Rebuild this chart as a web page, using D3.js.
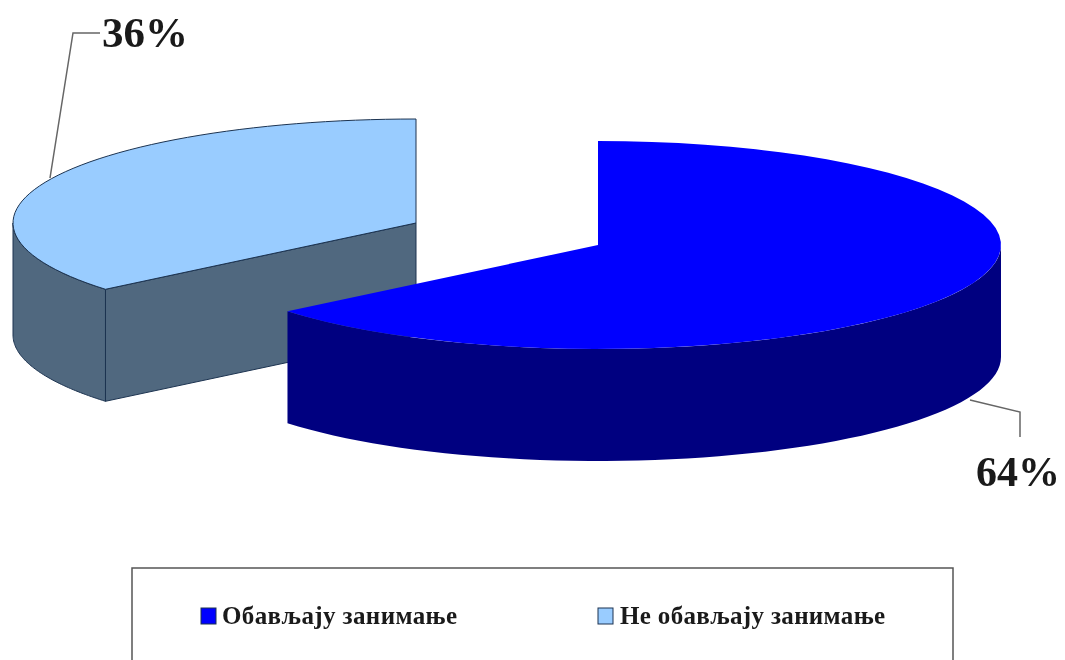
<!DOCTYPE html>
<html>
<head>
<meta charset="utf-8">
<script src="https://cdn.jsdelivr.net/npm/d3@7"></script>
<style>
html, body { margin: 0; padding: 0; background: #fff; overflow: hidden; }
svg { display: block; filter: blur(0.7px); }
text { font-family: "Liberation Serif", serif; font-weight: bold; fill: #1a1a1a; }
</style>
</head>
<body>
<svg id="chart" width="1065" height="660"></svg>
<script>
// data
var categories = ["Обављају занимање", "Не обављају занимање"];
var values = [64, 36];
var labels = ["64%", "36%"];
var topColors = ["#0000ff", "#99ccff"];
var sideColors = ["#000080", "#50687f"];

var width = 1065, height = 660;
var rx = 403, ry = 104, depth = 112;
var centers = [[598, 245], [416, 223]];   // second slice is pulled out to the left

var svg = d3.select("#chart");

// sort(null) so the slices stay in order, starting at 12 o'clock
var slices = d3.pie().sort(null).value(function (d) { return d; })(values);

// tilted pie: angle -> point on the flattened ellipse
function px(i, a) { return centers[i][0] + rx * Math.sin(a); }
function py(i, a) { return centers[i][1] - ry * Math.cos(a); }

var curve = d3.line().x(function (d) { return d[0]; }).y(function (d) { return d[1]; });

function rim(i, a0, a1, dy) {
  return d3.range(0, 61).map(function (k) {
    var a = a0 + (a1 - a0) * k / 60;
    return [px(i, a), py(i, a) + dy];
  });
}

function drawSlice(i) {
  var s = slices[i];
  var g = svg.append("g").attr("class", "slice");
  var stroke = i === 0 ? "none" : "#1c3350";

  // radial cut facing the viewer (only the pulled out slice shows it)
  if (i === 1) {
    var c = centers[i];
    var p = [px(i, s.startAngle), py(i, s.startAngle)];
    g.append("path")
      .attr("d", curve([c, p, [p[0], p[1] + depth], [c[0], c[1] + depth]]) + "Z")
      .attr("fill", sideColors[i]).attr("stroke", stroke);
  }

  // outer wall, lower half of the ellipse only
  var a0, a1;
  if (i === 0) { a0 = Math.PI / 2; a1 = s.endAngle; }
  else { a0 = s.startAngle; a1 = Math.PI * 1.5; }
  g.append("path")
    .attr("d", curve(rim(i, a0, a1, 0).concat(rim(i, a1, a0, depth))) + "Z")
    .attr("fill", sideColors[i]).attr("stroke", stroke);

  // top face
  g.append("path")
    .attr("d", curve([centers[i]].concat(rim(i, s.startAngle, s.endAngle, 0))) + "Z")
    .attr("fill", topColors[i]).attr("stroke", stroke);
}

drawSlice(1);
drawSlice(0);

// leader lines
function leader(pts) {
  svg.append("path").attr("d", curve(pts))
    .attr("fill", "none").attr("stroke", "#666").attr("stroke-width", 1.5);
}
leader([[50, 178], [73, 33], [100, 33]]);
leader([[970, 400], [1020, 412], [1020, 437]]);

svg.append("text").attr("x", 102).attr("y", 47).attr("font-size", 43).text(labels[1]);
svg.append("text").attr("x", 976).attr("y", 486).attr("font-size", 42).text(labels[0]);

// legend, runs off the bottom of the picture
svg.append("rect").attr("x", 132).attr("y", 568).attr("width", 821).attr("height", 120)
  .attr("fill", "#fff").attr("stroke", "#555").attr("stroke-width", 1.5);

var swatchX = [201, 598];
var textX = [222, 620];
var textW = [235, 265];
categories.forEach(function (name, i) {
  svg.append("rect").attr("x", swatchX[i]).attr("y", 608).attr("width", 15).attr("height", 16)
    .attr("fill", topColors[i]).attr("stroke", "#1c3350");
  svg.append("text").attr("x", textX[i]).attr("y", 624)
    .attr("font-size", 25).attr("textLength", textW[i]).text(name);
});
</script>
</body>
</html>
